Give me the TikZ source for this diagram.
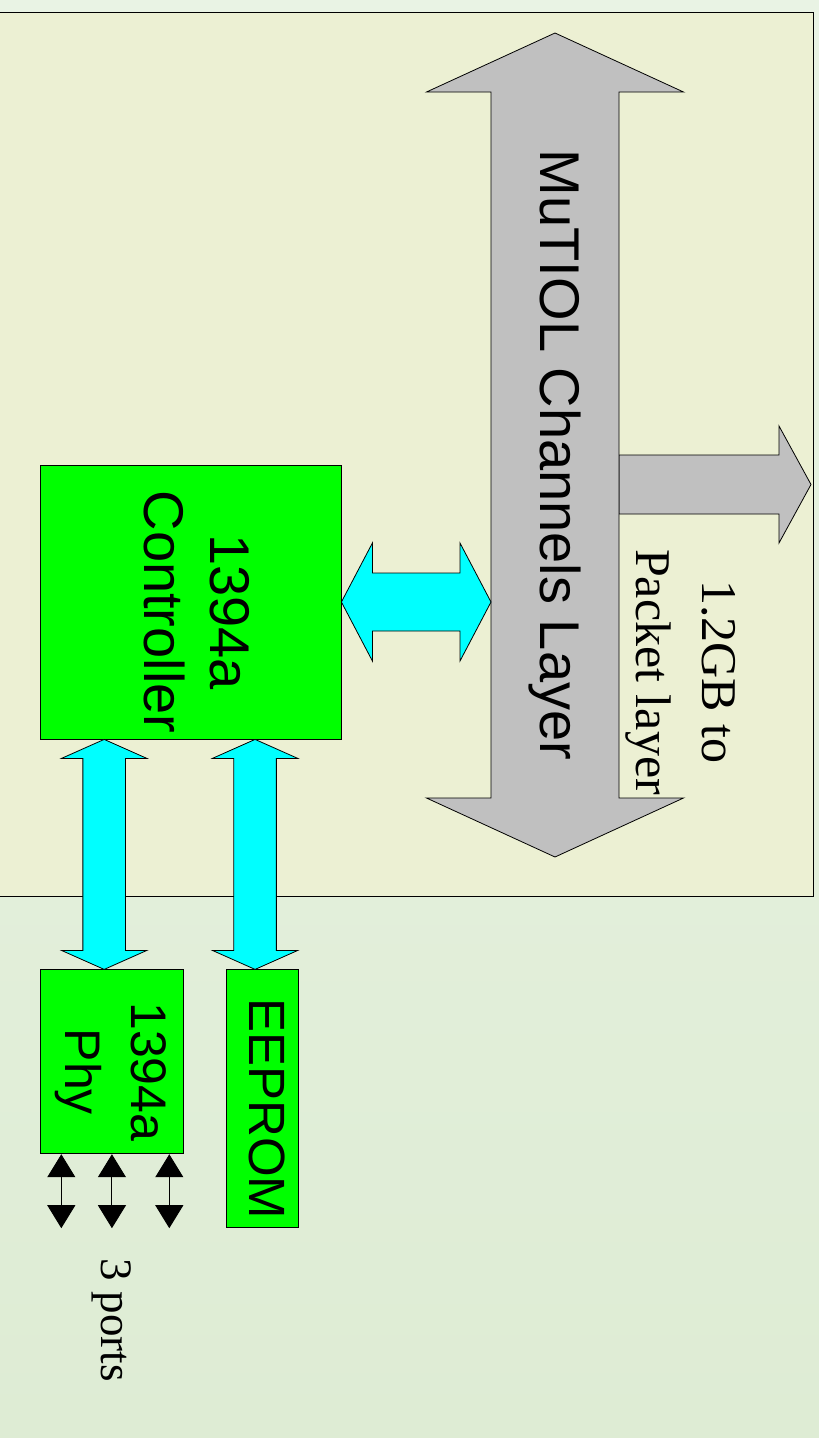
\documentclass[tikz,border=0pt]{standalone}
\usepackage{fontspec}
\setmainfont{Liberation Sans}
\newfontfamily\timesfont{Liberation Serif}
\usetikzlibrary{arrows.meta, calc, positioning}

\definecolor{slidetop}{RGB}{233,243,228}
\definecolor{slidebot}{RGB}{222,236,212}
\definecolor{panelfill}{RGB}{236,240,211}
\definecolor{chipgreen}{RGB}{0,255,0}
\definecolor{linkcyan}{RGB}{0,255,255}
\definecolor{busgray}{RGB}{192,192,192}

% block arrow with two heads: [style]{from}{to}{shaft half}{head half}{head length}
\newcommand{\dblarrow}[6][]{%
  \draw[#1] (#2)
    -- ($(#2)!#6!(#3)!#5!90:(#3)$)
    -- ($(#2)!#6!(#3)!#4!90:(#3)$)
    -- ($(#3)!#6!(#2)!#4!-90:(#2)$)
    -- ($(#3)!#6!(#2)!#5!-90:(#2)$)
    -- (#3)
    -- ($(#3)!#6!(#2)!#5!90:(#2)$)
    -- ($(#3)!#6!(#2)!#4!90:(#2)$)
    -- ($(#2)!#6!(#3)!#4!-90:(#3)$)
    -- ($(#2)!#6!(#3)!#5!-90:(#3)$)
    -- cycle;}

% block arrow with one head at the second end
\newcommand{\sglarrow}[6][]{%
  \draw[#1] ($(#2)!#4!90:(#3)$)
    -- ($(#3)!#6!(#2)!#4!-90:(#2)$)
    -- ($(#3)!#6!(#2)!#5!-90:(#2)$)
    -- (#3)
    -- ($(#3)!#6!(#2)!#5!90:(#2)$)
    -- ($(#3)!#6!(#2)!#4!90:(#2)$)
    -- ($(#2)!#4!-90:(#3)$)
    -- cycle;}

% chip label, turned and pushed a little down the box
\newcommand{\chiptext}[2]{\rotatebox{-90}{\hspace*{20pt}\fontsize{#1}{66}\selectfont\begin{tabular}{@{}c@{}}#2\end{tabular}}}

\begin{document}
\begin{tikzpicture}[
            x = 1pt, y = -1pt, % one unit per pixel, y going down
            line join = miter,
            semithick % line style
        ]

        \tikzstyle{box}=[
            draw = black,
            fill = chipgreen,
            line width = 0.8pt,
            inner sep = 0pt
        ]
        \tikzstyle{busarrow}=[draw = black, fill = busgray, line width = 0.8pt]
        \tikzstyle{link}=[draw = black, fill = linkcyan, line width = 0.8pt]
        \tikzstyle{port}=[line width = 0.9pt, {Triangle[length=23pt, width=28pt]}-{Triangle[length=23pt, width=28pt]}]

        % slide background and panel
        \shade[top color = slidetop, bottom color = slidebot] (0,0) rectangle (819,1438);
        \useasboundingbox (0,0) rectangle (819,1438);
        \draw[fill = panelfill, line width = 0.8pt] (-2,12.7) rectangle (813.6,896);

        % MuTIOL bus
        \coordinate (bustop) at (555,33);
        \coordinate (busbot) at (555,857);
        \coordinate (busright) at (619,484.5);
        \coordinate (pkt) at (811,484.5);
        \coordinate (busleft) at (491,602);
        \sglarrow[busarrow]{busright}{pkt}{29.5pt}{58.5pt}{32pt}
        \dblarrow[busarrow]{bustop}{busbot}{64pt}{128.5pt}{59pt}
        \node[rotate = -90, font = \fontsize{56}{66}\selectfont] (bus) at (555,455) {MuTIOL Channels Layer};
        \node[rotate = -90, align = center, font = \timesfont\fontsize{50}{66}\selectfont] (pkttext) at (681,672) {1.2GB to\\Packet layer};

        % chips
        \node[box, minimum width = 301pt, minimum height = 274pt] (ctrl) at (190.5,602)
            {\chiptext{56}{1394a\\Controller}};
        \node[box, minimum width = 143pt, minimum height = 184pt, below = 230pt of ctrl.south west, anchor = north west] (phy)
            {\chiptext{50}{1394a\\Phy}};
        \node[box, minimum width = 72pt, minimum height = 258pt, right = 43pt of phy.north east, anchor = north west] (eeprom)
            {\chiptext{51}{EEPROM}};

        % links
        \dblarrow[link]{ctrl.east}{busleft}{29pt}{59pt}{31pt}
        \coordinate (c1) at ($(ctrl.south west)!0.214!(ctrl.south east)$);
        \coordinate (c2) at ($(ctrl.south west)!0.714!(ctrl.south east)$);
        \dblarrow[link]{c1}{c1 |- phy.north}{21.3pt}{42.7pt}{19pt}
        \dblarrow[link]{c2}{c2 |- eeprom.north}{21.3pt}{42.7pt}{19pt}

        % phy ports
        \coordinate (q1) at ($(phy.south west)!0.151!(phy.south east)$);
        \coordinate (q2) at ($(phy.south west)!0.503!(phy.south east)$);
        \coordinate (q3) at ($(phy.south west)!0.902!(phy.south east)$);
        \foreach \q in {q1, q2, q3}
            \draw[port] (\q) -- ++(0,74);
        \node[rotate = -90, font = \timesfont\fontsize{45}{54}\selectfont] (ports) at (112,1320) {3 ports};
     \end{tikzpicture}
\end{document}
